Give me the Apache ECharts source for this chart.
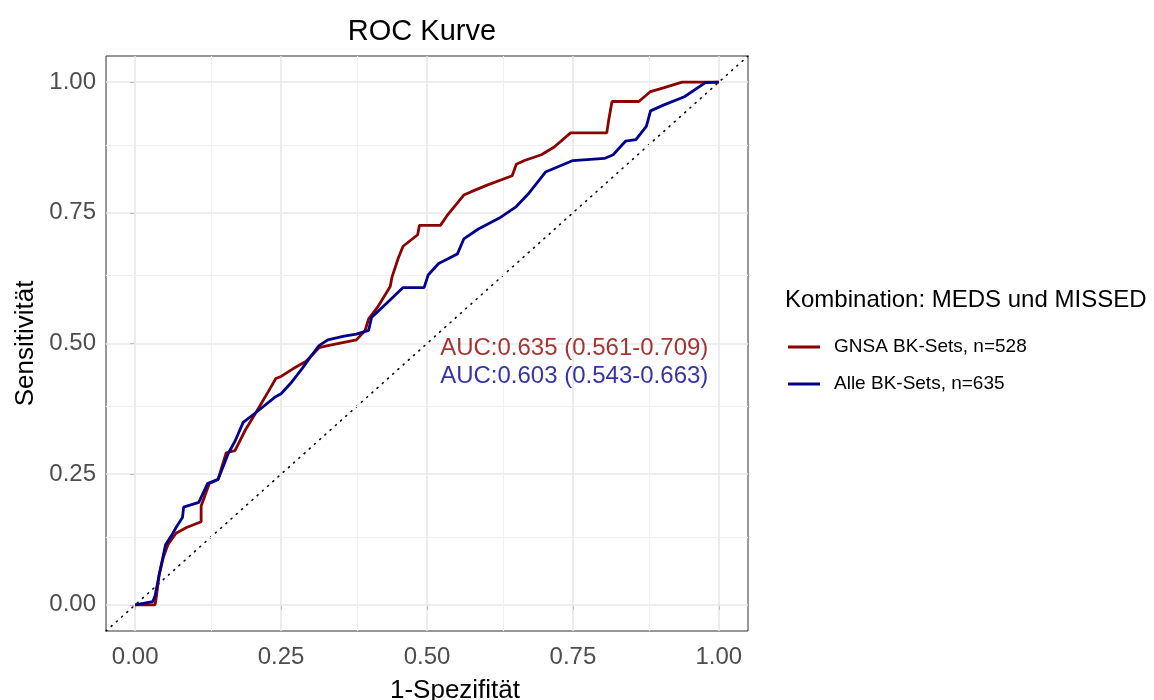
<!DOCTYPE html>
<html>
<head>
<meta charset="utf-8">
<script src="https://cdn.jsdelivr.net/npm/echarts@6/dist/echarts.min.js"></script>
<style>
  html, body { margin: 0; padding: 0; background: #fff; }
  #chart { width: 1154px; height: 700px; }
</style>
</head>
<body>
<div id="chart"></div>
<script>
// ROC Kurve: Werte (1-Spezifität, Sensitivität)
var gnsaFpr = [0, 0.034, 0.036, 0.041, 0.048, 0.056, 0.070, 0.088, 0.113, 0.113, 0.127, 0.142, 0.156, 0.171, 0.189, 0.207, 0.228, 0.241, 0.250, 0.271, 0.293, 0.315, 0.330, 0.379, 0.394, 0.400, 0.415, 0.437, 0.440, 0.451, 0.459, 0.484, 0.487, 0.523, 0.534, 0.563, 0.575, 0.603, 0.646, 0.653, 0.667, 0.696, 0.718, 0.746, 0.808, 0.811, 0.817, 0.863, 0.883, 0.905, 0.937, 1.0];
var gnsaTpr = [0, 0, 0.013, 0.057, 0.090, 0.115, 0.137, 0.148, 0.159, 0.189, 0.232, 0.240, 0.291, 0.295, 0.335, 0.368, 0.408, 0.433, 0.437, 0.452, 0.466, 0.492, 0.496, 0.507, 0.525, 0.547, 0.569, 0.609, 0.627, 0.664, 0.686, 0.708, 0.726, 0.726, 0.744, 0.784, 0.790, 0.803, 0.821, 0.843, 0.850, 0.861, 0.876, 0.903, 0.903, 0.925, 0.963, 0.963, 0.982, 0.989, 1.0, 1.0];

var alleFpr = [0, 0.030, 0.034, 0.041, 0.052, 0.063, 0.070, 0.081, 0.083, 0.109, 0.124, 0.142, 0.160, 0.171, 0.185, 0.207, 0.239, 0.250, 0.268, 0.286, 0.300, 0.315, 0.330, 0.358, 0.379, 0.400, 0.405, 0.430, 0.459, 0.495, 0.502, 0.520, 0.552, 0.563, 0.588, 0.624, 0.653, 0.675, 0.703, 0.750, 0.804, 0.819, 0.840, 0.858, 0.876, 0.883, 0.905, 0.941, 0.977, 1.0];
var alleTpr = [0, 0.006, 0.017, 0.057, 0.115, 0.134, 0.148, 0.167, 0.187, 0.196, 0.232, 0.240, 0.291, 0.313, 0.349, 0.368, 0.397, 0.404, 0.426, 0.452, 0.474, 0.496, 0.507, 0.514, 0.518, 0.525, 0.550, 0.576, 0.607, 0.607, 0.631, 0.653, 0.671, 0.700, 0.719, 0.740, 0.762, 0.788, 0.828, 0.850, 0.854, 0.861, 0.887, 0.890, 0.916, 0.945, 0.956, 0.972, 0.999, 1.0];

var seriesNames = ['GNSA BK-Sets, n=528', 'Alle BK-Sets, n=635'];
var seriesColors = ['#8b0000', '#00008b'];
var aucLabels = ['AUC:0.635 (0.561-0.709)', 'AUC:0.603 (0.543-0.663)'];
var aucPos = [[0.982, 0.491], [0.982, 0.437]];

var tickValues = [0, 0.25, 0.5, 0.75, 1];
var minorValues = [0.125, 0.375, 0.625, 0.875];
var axisMin = -0.05, axisMax = 1.05;

function pairs(xs, ys) {
  return xs.map(function (x, i) { return [x, ys[i]]; });
}

var font = 'Liberation Sans, Arial, sans-serif';

var gridLines = [];
tickValues.forEach(function (v) {
  gridLines.push({ xAxis: v, lineStyle: { color: '#e8e8e8', width: 1.6, type: 'solid' } });
  gridLines.push({ yAxis: v, lineStyle: { color: '#e8e8e8', width: 1.6, type: 'solid' } });
});
minorValues.forEach(function (v) {
  gridLines.push({ xAxis: v, lineStyle: { color: '#f0f0f0', width: 1, type: 'solid' } });
  gridLines.push({ yAxis: v, lineStyle: { color: '#f0f0f0', width: 1, type: 'solid' } });
});

var chart = echarts.init(document.getElementById('chart'));

var axisCommon = {
  type: 'value',
  min: axisMin,
  max: axisMax,
  nameLocation: 'middle',
  axisLine: { show: false },
  axisTick: { show: true, length: 5, inside: false, customValues: tickValues, lineStyle: { color: '#333', width: 1 } },
  axisLabel: {
    customValues: tickValues,
    fontFamily: font, fontSize: 24, color: '#4d4d4d',
    formatter: function (v) { return v.toFixed(2); }
  },
  splitLine: { show: false }
};

chart.setOption({
  animation: false,
  title: [
    { text: 'ROC Kurve', left: 422, top: 17, textAlign: 'center', padding: 0,
      textStyle: { fontFamily: font, fontSize: 29, fontWeight: 'normal', color: '#000' } },
    { text: 'Kombination: MEDS und MISSED', left: 785, top: 288, padding: 0,
      textStyle: { fontFamily: font, fontSize: 24, fontWeight: 'normal', color: '#000' } }
  ],
  legend: {
    data: seriesNames,
    orient: 'vertical',
    left: 788,
    top: 337,
    itemWidth: 32,
    itemHeight: 3,
    itemGap: 17,
    icon: 'rect',
    padding: 0,
    textStyle: { fontFamily: font, fontSize: 19, color: '#000', padding: [0, 0, 0, 9], lineHeight: 20 }
  },
  grid: {
    left: 106, right: 406, top: 56, bottom: 69,
    outerBoundsMode: 'none',
    show: true, borderColor: '#333', borderWidth: 1, backgroundColor: '#fff'
  },
  xAxis: Object.assign({}, axisCommon, {
    name: '1-Spezifität', nameGap: 47,
    nameTextStyle: { fontFamily: font, fontSize: 26, color: '#000', padding: [0, 0, 0, 56] },
    axisLabel: Object.assign({}, axisCommon.axisLabel, { margin: 14 })
  }),
  yAxis: Object.assign({}, axisCommon, {
    name: 'Sensitivität', nameGap: 66, nameRotate: 90,
    nameTextStyle: { fontFamily: font, fontSize: 26, color: '#000' },
    axisLabel: Object.assign({}, axisCommon.axisLabel, { margin: 10 })
  }),
  series: [
    {
      type: 'line', silent: true, data: [], symbol: 'none', z: 0,
      markLine: { silent: true, symbol: 'none', label: { show: false }, data: gridLines }
    },
    {
      type: 'line', silent: true, symbol: 'none', z: 3,
      data: [[axisMin, axisMin], [axisMax, axisMax]],
      lineStyle: { color: '#000', width: 1.6, type: [1, 6], cap: 'round' }
    },
    {
      name: seriesNames[0], type: 'line', symbol: 'none', z: 5,
      data: pairs(gnsaFpr, gnsaTpr),
      lineStyle: { color: seriesColors[0], width: 2.8 },
      itemStyle: { color: seriesColors[0] }
    },
    {
      name: seriesNames[1], type: 'line', symbol: 'none', z: 6,
      data: pairs(alleFpr, alleTpr),
      lineStyle: { color: seriesColors[1], width: 2.8 },
      itemStyle: { color: seriesColors[1] }
    },
    {
      type: 'scatter', silent: true, symbolSize: 0, z: 7,
      data: aucLabels.map(function (t, i) {
        return {
          value: aucPos[i],
          label: {
            show: true, formatter: t, position: [0, 0], align: 'right', verticalAlign: 'middle',
            fontFamily: font, fontSize: 24, color: seriesColors[i]
          }
        };
      })
    }
  ]
});
</script>
</body>
</html>
